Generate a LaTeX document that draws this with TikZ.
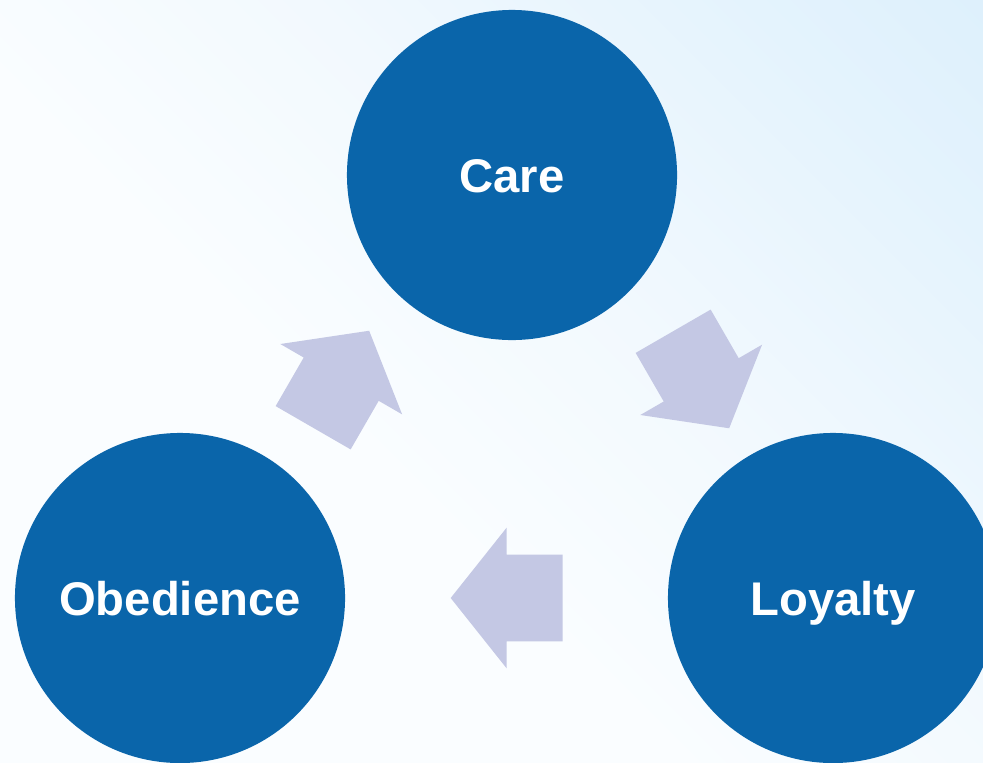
\documentclass[tikz,border=0pt]{standalone}
\usepackage{fontspec}
\setmainfont{Liberation Sans}
\usetikzlibrary{shapes.arrows,positioning}
\definecolor{circblue}{HTML}{0A65AA}
\definecolor{arrowlav}{HTML}{C4C8E4}
\definecolor{bglow}{HTML}{FAFDFF}
\definecolor{bgmid}{HTML}{F2F9FE}
\definecolor{bgupper}{HTML}{E4F3FD}
\definecolor{bgblue}{HTML}{D4ECFA}
\pgfdeclareverticalshading{skyshade}{100bp}{color(0bp)=(bglow); color(42bp)=(bglow);
  color(58bp)=(bgmid); color(76bp)=(bgupper); color(100bp)=(bgblue)}
\tikzset{
  virtue/.style={circle, fill=circblue, text=white, minimum size=8.25cm, inner sep=0pt,
    text height=24.2pt, text depth=0pt, font=\fontsize{33.6}{40}\selectfont\bfseries},
  blockarrow/.style={single arrow, fill=arrowlav, minimum height=2.8cm, inner xsep=0pt,
    inner ysep=1.075cm, single arrow head extend=0.675cm, single arrow tip angle=103,
    anchor=tail}
}
\begin{document}
\begin{tikzpicture}[x=0.025cm, y=-0.025cm]
  \useasboundingbox (0,0) rectangle (983,762);
  \clip (0,0) rectangle (983,762);
  % background
  \shade[shading=skyshade, shading angle=-45] (0,0) rectangle (983,762);
  \node[virtue] (care)      at (512,175) {Care};
  \node[virtue] (obedience) at (180,598) {Obedience};
  \node[virtue] (loyalty)   at (833,598) {Loyalty};
  %\draw (obedience) edge (care);
  \node[blockarrow, rotate=60]  (toCare)      at (313,428) {};
  \node[blockarrow, rotate=-60] (toLoyalty)   at (673,331) {};
  \node[blockarrow, rotate=180] (toObedience) at (563,598) {};
\end{tikzpicture}
\end{document}
